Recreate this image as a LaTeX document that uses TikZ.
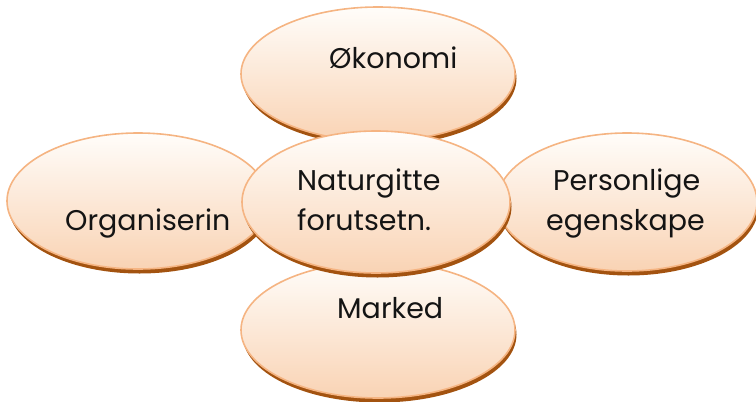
\documentclass[tikz,border=0pt]{standalone}
\usepackage{fontspec}
\setmainfont{Poppins}
\usetikzlibrary{shapes.geometric,shadows}
\definecolor{bord}{RGB}{245,180,130}
\definecolor{topc}{RGB}{255,253,250}
\definecolor{botc}{RGB}{249,211,180}
\definecolor{shad}{RGB}{163,83,16}
\definecolor{txt}{RGB}{20,20,20}
\tikzset{
  blob/.style={ellipse, draw=bord, line width=1.6pt, top color=topc, bottom color=botc,
    inner sep=0pt,
    general shadow={fill=shad, shadow xshift=1.5pt, shadow yshift=-4.5pt}},
  lbl/.style={anchor=base west, inner sep=0pt, text=txt, font=\fontsize{28.5}{32}\selectfont}
}
\begin{document}
\begin{tikzpicture}[x=1pt,y=-1pt]
\useasboundingbox (0,0) rectangle (756,402);
\node[blob, minimum width=274pt, minimum height=134pt] (top) at (378,74) {};
\node[blob, minimum width=262pt, minimum height=136pt] (left) at (138,201) {};
\node[blob, minimum width=260pt, minimum height=138pt] (right) at (627,202) {};
\node[blob, minimum width=274pt, minimum height=136pt] (bottom) at (378,330) {};
\node[blob, minimum width=268pt, minimum height=142pt] (center) at (376,202) {};
\node[lbl] (t1) at (329,68) {Økonomi};
\node[lbl] (t2) at (65,230) {Organiserin};
\node[lbl] (t3) at (297,190) {Naturgitte};
\node[lbl] (t4) at (297,230) {forutsetn.};
\node[lbl] (t5) at (553,190) {Personlige};
\node[lbl] (t6) at (546,230) {egenskape};
\node[lbl] (t7) at (337,318) {Marked};
\end{tikzpicture}
\end{document}
